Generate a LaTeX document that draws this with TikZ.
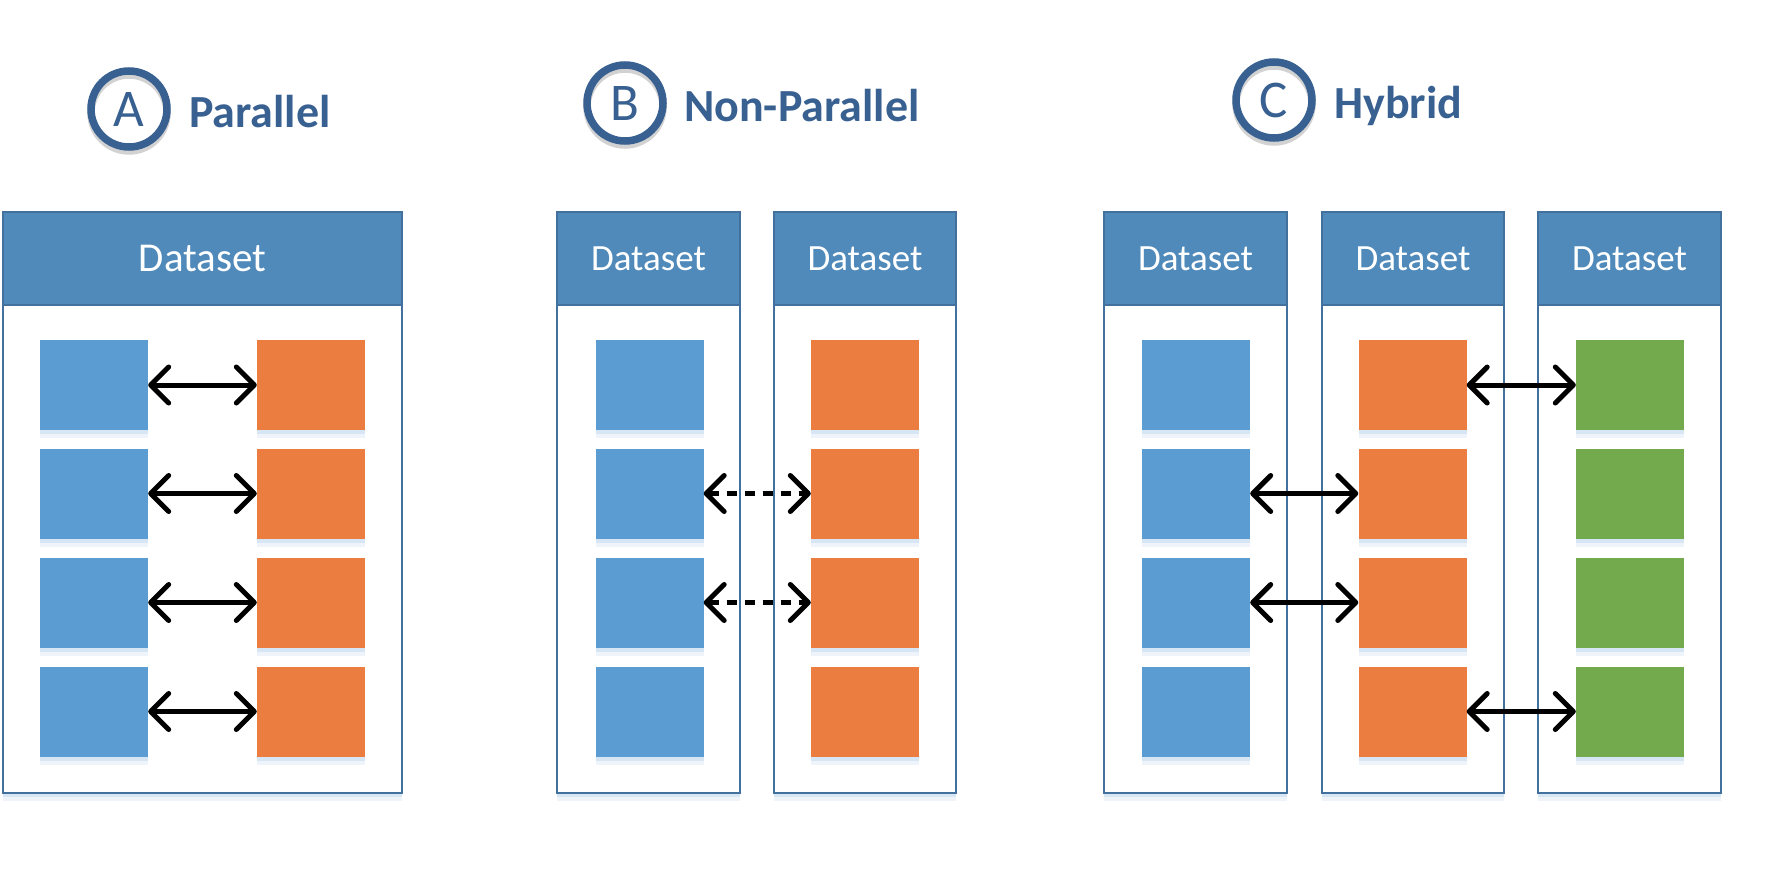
\documentclass[tikz,border=0pt]{standalone}
\usepackage{fontspec}
\newfontfamily\calfont{Carlito}
\usetikzlibrary{arrows.meta}
\definecolor{titleblue}{RGB}{56,96,145}
\definecolor{hdrblue}{RGB}{80,138,186}
\definecolor{boxline}{RGB}{65,113,156}
\definecolor{sqblue}{RGB}{91,157,210}
\definecolor{sqorange}{RGB}{235,125,65}
\definecolor{sqgreen}{RGB}{115,170,78}
\definecolor{glow}{RGB}{189,215,238}
\tikzset{
  glowed/.style={preaction={fill=glow,fill opacity=0.25,transform canvas={yshift=-8pt}},
                 preaction={fill=glow,fill opacity=0.45,transform canvas={yshift=-4pt}}},
  bodybox/.style={draw=boxline,line width=2pt,fill=white,minimum height=488pt,inner sep=0pt,glowed},
  hdrbox/.style={draw=boxline,line width=2pt,fill=hdrblue,minimum height=93pt,inner sep=0pt,
                 text=white,font=\calfont\fontsize{37}{40}\selectfont},
  hdrbig/.style={hdrbox,font=\calfont\fontsize{41}{44}\selectfont},
  sq/.style={minimum width=108pt,minimum height=90pt,inner sep=0pt,glowed},
  bsq/.style={sq,fill=sqblue},
  osq/.style={sq,fill=sqorange},
  gsq/.style={sq,fill=sqgreen},
  ring/.style={circle,draw=titleblue,line width=7.5pt,minimum size=76pt,inner sep=0pt,
               text=titleblue,font=\calfont\fontsize{53}{56}\selectfont,
               preaction={draw=black!35,draw opacity=0.5,line width=7.5pt,transform canvas={yshift=-4pt}}},
  ttl/.style={anchor=base west,inner sep=0pt,text=titleblue,font=\calfont\bfseries\fontsize{46}{50}\selectfont},
  biarrow/.style={line width=5pt,{Straight Barb[length=18pt,width=36pt,round]}-{Straight Barb[length=18pt,width=36pt,round]}},
  dasharrow/.style={biarrow,dash pattern=on 10pt off 8pt}
}
\begin{document}
\begin{tikzpicture}[x=1pt,y=-1pt]
\useasboundingbox[fill=white] (0,0) rectangle (1772,896);

% ---------- titles ----------
\node[ring] (cA) at (129,109) {A};
\node[ttl] (tA) at (189,128) {Parallel};
\node[ring] (cB) at (625,103) {B};
\node[ttl] (tB) at (684,122) {Non-Parallel};
\node[ring] (cC) at (1274,100) {C};
\node[ttl] (tC) at (1334,119) {Hybrid};

% ---------- panel A ----------
\node[bodybox,minimum width=399pt] (bA) at (202.5,549) {};
\node[hdrbig,minimum width=399pt] (hA) at (202.5,258.5) {Dataset};

% ---------- panel B ----------
\node[bodybox,minimum width=183pt] (bB1) at (648.5,549) {};
\node[hdrbox,minimum width=183pt] (hB1) at (648.5,258.5) {Dataset};
\node[bodybox,minimum width=182pt] (bB2) at (865,549) {};
\node[hdrbox,minimum width=182pt] (hB2) at (865,258.5) {Dataset};

% ---------- panel C ----------
\node[bodybox,minimum width=183pt] (bC1) at (1195.5,549) {};
\node[hdrbox,minimum width=183pt] (hC1) at (1195.5,258.5) {Dataset};
\node[bodybox,minimum width=182pt] (bC2) at (1413,549) {};
\node[hdrbox,minimum width=182pt] (hC2) at (1413,258.5) {Dataset};
\node[bodybox,minimum width=183pt] (bC3) at (1629.5,549) {};
\node[hdrbox,minimum width=183pt] (hC3) at (1629.5,258.5) {Dataset};

% ---------- squares ----------
\foreach \r/\y in {1/385,2/493.5,3/602.5,4/711.5}{
  \node[bsq] (a\r l) at (94,\y) {};
  \node[osq] (a\r r) at (311,\y) {};
  \node[bsq] (b\r l) at (649.5,\y) {};
  \node[osq] (b\r r) at (865,\y) {};
  \node[bsq] (c\r l) at (1196,\y) {};
  \node[osq] (c\r m) at (1412.5,\y) {};
  \node[gsq] (c\r r) at (1630,\y) {};
}

% ---------- connectors ----------
\draw[biarrow] (a1l.east) -- (a1r.west);
\draw[biarrow] (a2l.east) -- (a2r.west);
\draw[biarrow] (a3l.east) -- (a3r.west);
\draw[biarrow] (a4l.east) -- (a4r.west);

\draw[dasharrow] (b2l.east) -- (b2r.west);
\draw[dasharrow] (b3l.east) -- (b3r.west);

\draw[biarrow] (c1m.east) -- (c1r.west);
\draw[biarrow] (c2l.east) -- (c2m.west);
\draw[biarrow] (c3l.east) -- (c3m.west);
\draw[biarrow] (c4m.east) -- (c4r.west);
\end{tikzpicture}
\end{document}
